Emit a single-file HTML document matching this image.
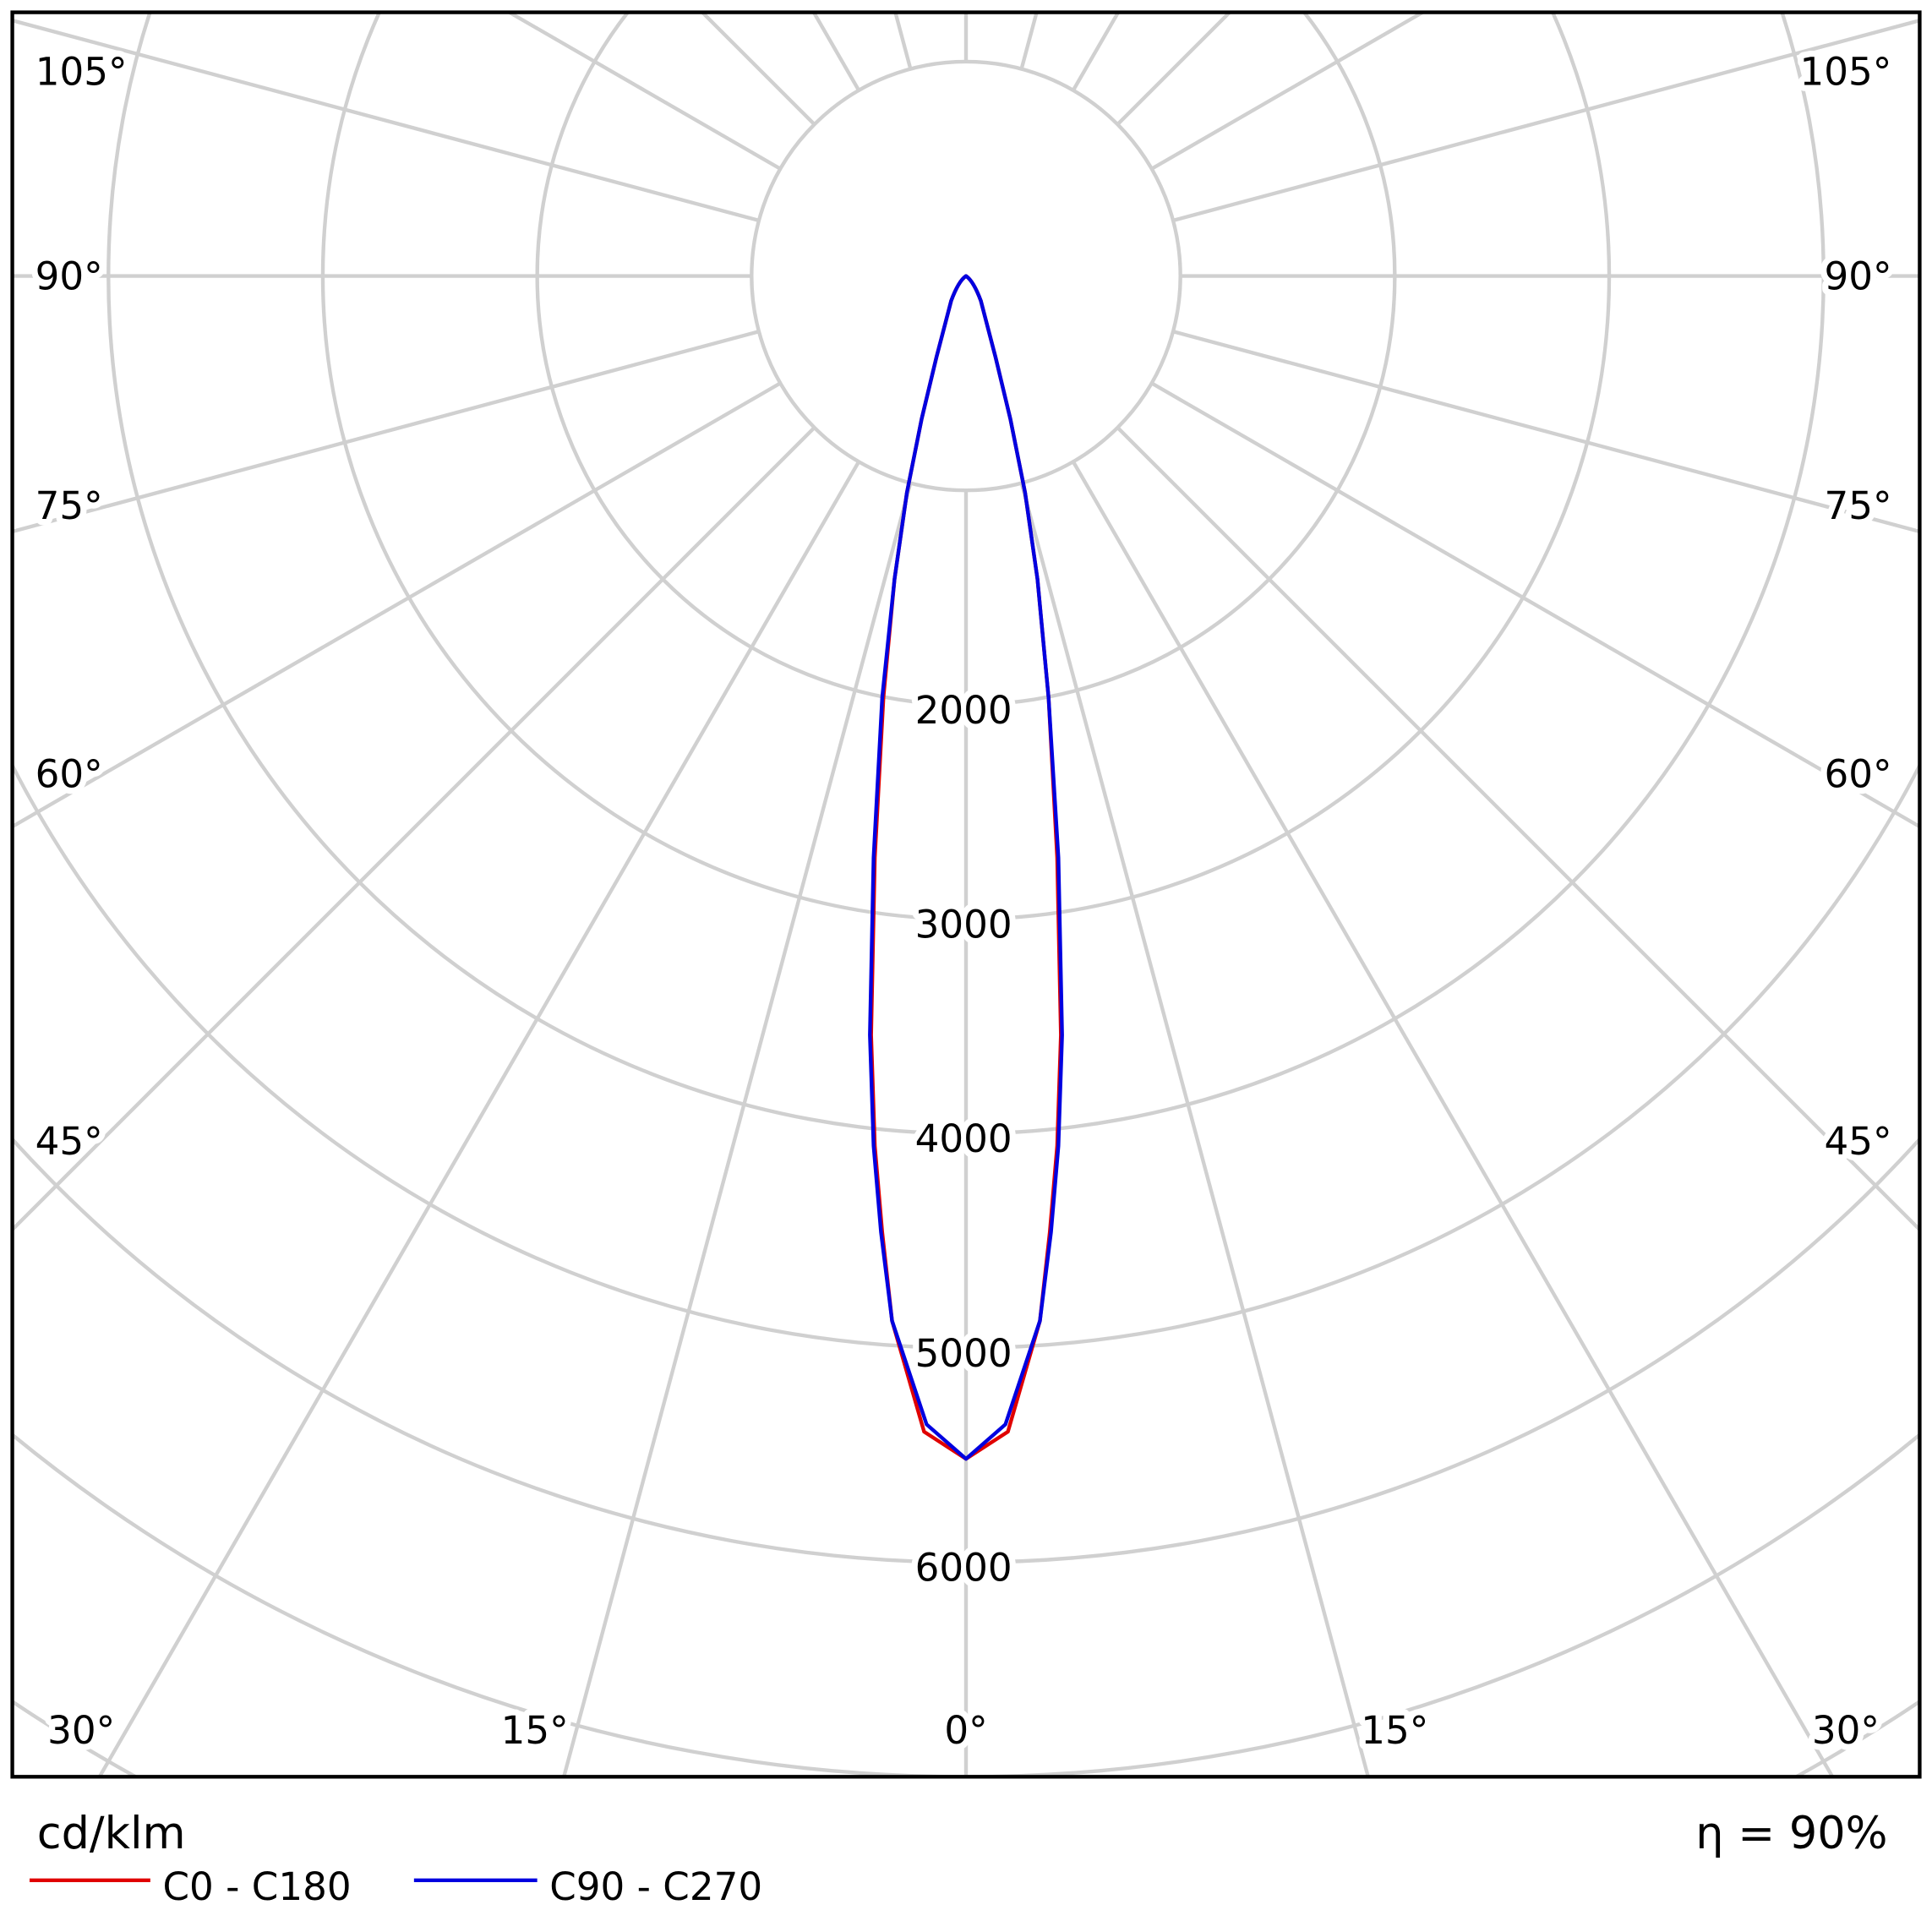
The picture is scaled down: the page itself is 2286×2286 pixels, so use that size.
<!DOCTYPE html>
<html><head><style>html,body{margin:0;padding:0;background:#fff;overflow:hidden;width:2286px;height:2286px}svg{display:block}</style></head>
<body>
<svg width="2286" height="2286" viewBox="0 0 1568 1568" xmlns="http://www.w3.org/2000/svg" font-family="'DejaVu Sans','Liberation Sans',sans-serif">
<defs><clipPath id="c"><rect x="10" y="10" width="1548" height="1432"/></clipPath></defs>
<rect width="1568" height="1568" fill="#fff"/>
<g clip-path="url(#c)" stroke="#d0d0d0" stroke-width="3" fill="none">
<circle cx="784" cy="224" r="174"/><circle cx="784" cy="224" r="348"/><circle cx="784" cy="224" r="522"/><circle cx="784" cy="224" r="696"/><circle cx="784" cy="224" r="870"/><circle cx="784" cy="224" r="1044"/><circle cx="784" cy="224" r="1218"/><circle cx="784" cy="224" r="1392"/><circle cx="784" cy="224" r="1566"/>
<line x1="784" y1="398" x2="784" y2="2400"/>
<line x1="784" y1="398" x2="784" y2="2400" transform="rotate(15 784 224)"/><line x1="784" y1="398" x2="784" y2="2400" transform="rotate(30 784 224)"/><line x1="784" y1="398" x2="784" y2="2400" transform="rotate(45 784 224)"/><line x1="784" y1="398" x2="784" y2="2400" transform="rotate(60 784 224)"/><line x1="784" y1="398" x2="784" y2="2400" transform="rotate(75 784 224)"/><line x1="784" y1="398" x2="784" y2="2400" transform="rotate(90 784 224)"/><line x1="784" y1="398" x2="784" y2="2400" transform="rotate(105 784 224)"/><line x1="784" y1="398" x2="784" y2="2400" transform="rotate(120 784 224)"/><line x1="784" y1="398" x2="784" y2="2400" transform="rotate(135 784 224)"/><line x1="784" y1="398" x2="784" y2="2400" transform="rotate(150 784 224)"/><line x1="784" y1="398" x2="784" y2="2400" transform="rotate(165 784 224)"/><line x1="784" y1="398" x2="784" y2="2400" transform="rotate(180 784 224)"/><line x1="784" y1="398" x2="784" y2="2400" transform="rotate(-15 784 224)"/><line x1="784" y1="398" x2="784" y2="2400" transform="rotate(-30 784 224)"/><line x1="784" y1="398" x2="784" y2="2400" transform="rotate(-45 784 224)"/><line x1="784" y1="398" x2="784" y2="2400" transform="rotate(-60 784 224)"/><line x1="784" y1="398" x2="784" y2="2400" transform="rotate(-75 784 224)"/><line x1="784" y1="398" x2="784" y2="2400" transform="rotate(-90 784 224)"/><line x1="784" y1="398" x2="784" y2="2400" transform="rotate(-105 784 224)"/><line x1="784" y1="398" x2="784" y2="2400" transform="rotate(-120 784 224)"/><line x1="784" y1="398" x2="784" y2="2400" transform="rotate(-135 784 224)"/><line x1="784" y1="398" x2="784" y2="2400" transform="rotate(-150 784 224)"/><line x1="784" y1="398" x2="784" y2="2400" transform="rotate(-165 784 224)"/>
</g>
<g font-size="31" fill="#000" text-anchor="middle" stroke="#fff" stroke-width="10" paint-order="stroke" stroke-linejoin="round">
<text x="782" y="587">2000</text><text x="782" y="761">3000</text><text x="782" y="935">4000</text><text x="782" y="1109">5000</text><text x="782" y="1283">6000</text>
<text x="66" y="69">105°</text><text x="56" y="235">90°</text><text x="56" y="421">75°</text><text x="56" y="639">60°</text><text x="56" y="937">45°</text><text x="66" y="1415">30°</text><text x="434" y="1415">15°</text><text x="784" y="1415">0°</text>
<text x="1498" y="69">105°</text><text x="1508" y="235">90°</text><text x="1508" y="421">75°</text><text x="1508" y="639">60°</text><text x="1508" y="937">45°</text><text x="1498" y="1415">30°</text><text x="1132" y="1415">15°</text>
</g>
<g fill="none" stroke-width="3" stroke-linejoin="round">
<path stroke="#e00000" d="M784,224 Q790,228 796,244 L808,290 L820,340 L832,400 L842,470 L851,566 L858,696 L861,840 L858,930 L852,1000 L844,1072 L818,1162 L784,1184 L750,1162 L724,1072 L716,1000 L710,930 L707,840 L710,696 L717,566 L726,470 L736,400 L748,340 L760,290 L772,244 Q778,228 784,224 Z"/>
<path stroke="#0000e0" d="M784,224 Q790,228 796,244 L808,290 L820,340 L832,400 L842,470 L851,566 L859,696 L862,840 L859,930 L853,1000 L844,1072 L816,1156 L784,1184 L752,1156 L724,1072 L715,1000 L709,930 L706,840 L709,696 L716,566 L726,470 L736,400 L748,340 L760,290 L772,244 Q778,228 784,224 Z"/>
</g>
<rect x="10" y="10" width="1548" height="1432" fill="none" stroke="#000" stroke-width="3"/>
<g font-size="36" fill="#000"><text x="30" y="1500">cd/klm</text><text x="1532" y="1500" text-anchor="end">η = 90%</text></g>
<line x1="24" y1="1526" x2="122" y2="1526" stroke="#e00000" stroke-width="3"/>
<line x1="336" y1="1526" x2="436" y2="1526" stroke="#0000e0" stroke-width="3"/>
<g font-size="31" fill="#000"><text x="132" y="1542">C0 - C180</text><text x="446" y="1542">C90 - C270</text></g>
</svg>
</body></html>
